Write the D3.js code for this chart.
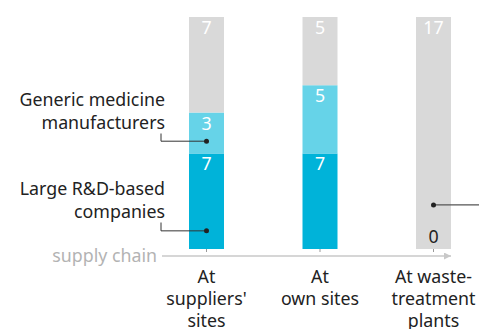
<!DOCTYPE html>
<html>
<head>
<meta charset="utf-8">
<script src="https://cdn.jsdelivr.net/npm/d3@7"></script>
<style>
  html, body { margin: 0; padding: 0; background: #fff; }
  svg { display: block; font-family: "Noto Sans", "Open Sans", sans-serif; }
</style>
</head>
<body>
<svg id="chart" width="479" height="329"></svg>
<script>
// Stages along the supply chain (line breaks as drawn)
const categories = [
  ["At", "suppliers'", "sites"],
  ["At", "own sites"],
  ["At waste-", "treatment", "plants"]
];
const categoryKeys = ["suppliers", "own", "waste"];

// Counts per stage
const largeRD = [7, 7, 0];
const generic = [3, 5, 0];
const other   = [7, 5, 17];

const seriesKeys = ["largeRD", "generic", "other"];
const colors = { largeRD: "#00b3d9", generic: "#66d3e8", other: "#d9d9d9" };

const rows = categoryKeys.map((k, i) => ({
  key: k, largeRD: largeRD[i], generic: generic[i], other: other[i]
}));

const svg = d3.select("#chart");
const W = 479, H = 329;
const FS = 17.8;

const x = d3.scalePoint().domain(categoryKeys).range([206.5, 433.5]);
const barW = 35;
const y = d3.scaleLinear().domain([0, 17]).range([249, 17]);

const stacked = d3.stack().keys(seriesKeys)(rows);

// Bars
const layers = svg.append("g").selectAll("g")
  .data(stacked).join("g")
  .attr("fill", d => colors[d.key]);

layers.selectAll("rect")
  .data(d => d.map(s => ({ s, key: d.key })))
  .join("rect")
  .attr("x", d => x(d.s.data.key) - barW / 2)
  .attr("width", barW)
  .attr("y", d => y(d.s[1]))
  .attr("height", d => y(d.s[0]) - y(d.s[1]));

// Value labels at the top of each segment
layers.selectAll("text")
  .data(d => d.map(s => ({ s, key: d.key })).filter(v => v.s[1] - v.s[0] > 0))
  .join("text")
  .attr("x", d => x(d.s.data.key))
  .attr("y", d => y(d.s[1]) + 17)
  .attr("text-anchor", "middle")
  .attr("fill", "#ffffff")
  .attr("font-size", FS)
  .text(d => d.s[1] - d.s[0]);

// Zero count for large companies at waste-treatment plants
svg.append("text")
  .attr("x", x("waste"))
  .attr("y", y(0) - 6)
  .attr("text-anchor", "middle")
  .attr("fill", "#222")
  .attr("font-size", FS)
  .text(largeRD[2]);

// Supply-chain axis with arrow
const axisY = 256;
svg.append("defs").append("marker")
  .attr("id", "arrow")
  .attr("viewBox", "0 0 10 10")
  .attr("refX", 10).attr("refY", 5)
  .attr("markerWidth", 9).attr("markerHeight", 7)
  .attr("markerUnits", "userSpaceOnUse")
  .attr("orient", "auto")
  .append("path")
  .attr("d", "M0,0 L10,5 L0,10 Z")
  .attr("fill", "#c8c8c8");

svg.append("line")
  .attr("x1", 162).attr("x2", 451)
  .attr("y1", axisY).attr("y2", axisY)
  .attr("stroke", "#c8c8c8").attr("stroke-width", 1.5)
  .attr("marker-end", "url(#arrow)");

svg.append("text")
  .attr("x", 157).attr("y", axisY + 6)
  .attr("text-anchor", "end")
  .attr("fill", "#b3b3b3")
  .attr("font-size", FS)
  .text("supply chain");

// Small ticks under each bar
svg.append("g").selectAll("line")
  .data(categoryKeys).join("line")
  .attr("x1", d => x(d)).attr("x2", d => x(d))
  .attr("y1", y(0)).attr("y2", y(0) + 3)
  .attr("stroke", "#999").attr("stroke-width", 1);

// Category labels
const catG = svg.append("g").selectAll("text")
  .data(categoryKeys).join("text")
  .attr("text-anchor", "middle")
  .attr("fill", "#222")
  .attr("font-size", FS);
catG.selectAll("tspan")
  .data((d, i) => categories[i].map(t => ({ t, k: d })))
  .join("tspan")
  .attr("x", d => x(d.k))
  .attr("y", (d, j) => 283 + j * 22)
  .text(d => d.t);

// Series annotations with leader lines
const annotations = [
  { lines: ["Generic medicine", "manufacturers"], baseY: 106, cat: "suppliers", value: (largeRD[0] + generic[0] * 0.3) },
  { lines: ["Large R&D-based", "companies"], baseY: 195, cat: "suppliers", value: largeRD[0] * 0.19 }
];
annotations.forEach(a => {
  const t = svg.append("text")
    .attr("text-anchor", "end")
    .attr("fill", "#222")
    .attr("font-size", FS);
  a.lines.forEach((ln, j) => {
    t.append("tspan").attr("x", 165).attr("y", a.baseY + j * 22.5).text(ln);
  });
  const dotY = y(a.value);
  const lx = 161;
  svg.append("path")
    .attr("d", `M${lx},${a.baseY + 22.5 + 5} V${dotY} H${x(a.cat)}`)
    .attr("fill", "none").attr("stroke", "#333").attr("stroke-width", 1);
  svg.append("circle")
    .attr("cx", x(a.cat)).attr("cy", dotY).attr("r", 2.5).attr("fill", "#222");
});

// Leader running off to the right from the waste-treatment bar
const wasteDotY = y(other[2] * 0.19);
svg.append("line")
  .attr("x1", x("waste")).attr("x2", W)
  .attr("y1", wasteDotY).attr("y2", wasteDotY)
  .attr("stroke", "#555").attr("stroke-width", 1.2);
svg.append("circle")
  .attr("cx", x("waste")).attr("cy", wasteDotY).attr("r", 2.5).attr("fill", "#222");
</script>
</body>
</html>
